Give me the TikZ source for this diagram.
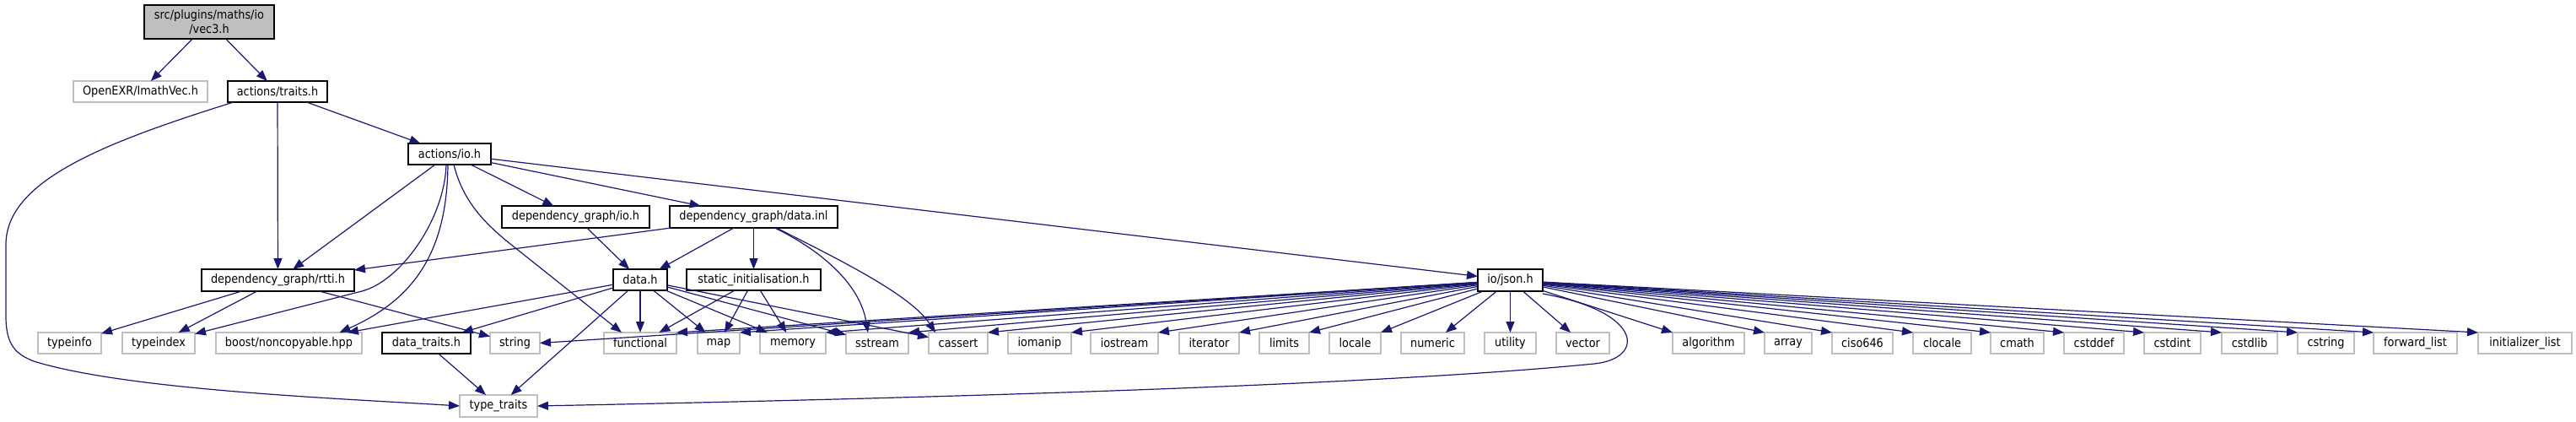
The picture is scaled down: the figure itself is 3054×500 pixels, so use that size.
\documentclass[tikz,border=0pt]{standalone}
\usepackage{fontspec}
\setmainfont{DejaVu Sans Condensed}
\usetikzlibrary{arrows.meta}
\definecolor{edgeblue}{HTML}{191970}
\definecolor{grayline}{HTML}{BFBFBF}
\newcommand{\mknode}[7]{\node[#2, minimum width={(#5-#3)*1pt}, minimum height={(#6-#4)*1pt}] (#1) at ({(#3+#5)/2},{(#4+#6)/2}) {#7};}
\begin{document}
\begin{tikzpicture}[x=1pt,y=-1pt, font=\fontsize{14.3}{16.5}\selectfont,
  base/.style={inner sep=0pt, outer sep=0pt, fill=white, text=black},
  intbox/.style={base, draw=black, line width=1.6pt},
  extbox/.style={base, draw=grayline, line width=1.6pt},
  rootbox/.style={base, draw=black, fill=grayline, line width=1.6pt, align=center},
  edge/.style={draw=edgeblue, line width=1.2pt, -{Triangle[length=13pt,width=10pt]}}]
\useasboundingbox (0,0) rectangle (3054,500);
% ---- nodes
\mknode{vec}{rootbox}{171}{6}{325}{46}{src/plugins/maths/io\\/vec3.h}
\mknode{openexr}{extbox}{87}{96}{246}{121}{OpenEXR/ImathVec.h}
\mknode{traits}{intbox}{270}{96}{388}{121}{actions/traits.h}
\mknode{actio}{intbox}{484}{170}{582}{195}{actions/io.h}
\mknode{rtti}{intbox}{239}{319}{420}{345}{dependency\_graph/rtti.h}
\mknode{dgio}{intbox}{595}{244}{770}{270}{dependency\_graph/io.h}
\mknode{datainl}{intbox}{794}{244}{993}{270}{dependency\_graph/data.inl}
\mknode{datah}{intbox}{727}{319}{791}{344}{data.h}
\mknode{nstatic}{intbox}{814}{319}{973}{344}{static\_initialisation.h}
\mknode{json}{intbox}{1752}{319}{1829}{345}{io/json.h}
\mknode{typeinfo}{extbox}{45}{394}{120}{419}{typeinfo}
\mknode{typeindex}{extbox}{145}{394}{231}{419}{typeindex}
\mknode{boost}{extbox}{256}{394}{429}{419}{boost/noncopyable.hpp}
\mknode{datatraits}{intbox}{453}{394}{558}{419}{data\_traits.h}
\mknode{nstring}{extbox}{581}{394}{640}{419}{string}
\mknode{functional}{extbox}{716}{394}{802}{419}{functional}
\mknode{nmap}{extbox}{827}{394}{877}{419}{map}
\mknode{memory}{extbox}{901}{394}{979}{419}{memory}
\mknode{sstream}{extbox}{1003}{394}{1077}{419}{sstream}
\mknode{cassert}{extbox}{1101}{394}{1171}{419}{cassert}
\mknode{iomanip}{extbox}{1195}{394}{1270}{419}{iomanip}
\mknode{iostream}{extbox}{1293}{394}{1373}{419}{iostream}
\mknode{iterator}{extbox}{1398}{394}{1469}{419}{iterator}
\mknode{limits}{extbox}{1493}{394}{1552}{419}{limits}
\mknode{locale}{extbox}{1576}{394}{1637}{419}{locale}
\mknode{numeric}{extbox}{1661}{394}{1736}{419}{numeric}
\mknode{utility}{extbox}{1760}{394}{1821}{419}{utility}
\mknode{vector}{extbox}{1845}{394}{1908}{419}{vector}
\mknode{algorithm}{extbox}{1983}{394}{2068}{419}{algorithm}
\mknode{narray}{extbox}{2092}{394}{2148}{419}{array}
\mknode{ciso}{extbox}{2172}{394}{2244}{419}{ciso646}
\mknode{clocale}{extbox}{2268}{394}{2337}{419}{clocale}
\mknode{cmath}{extbox}{2360}{394}{2423}{419}{cmath}
\mknode{cstddef}{extbox}{2447}{394}{2518}{419}{cstddef}
\mknode{cstdint}{extbox}{2542}{394}{2609}{419}{cstdint}
\mknode{cstdlib}{extbox}{2634}{394}{2700}{419}{cstdlib}
\mknode{cstring}{extbox}{2724}{394}{2791}{419}{cstring}
\mknode{fwdlist}{extbox}{2814}{394}{2913}{419}{forward\_list}
\mknode{initlist}{extbox}{2938}{394}{3049}{419}{initializer\_list}
\mknode{ttraits}{extbox}{545}{468}{637}{494}{type\_traits}
% ---- edges
\draw[edge] (vec) -- (openexr);
\draw[edge] (vec) -- (traits);
\draw[edge] ([xshift=7pt]traits.south west) .. controls (120,170) and (7,215) .. (7,290) -- (7,375) .. controls (7,410) and (20,420) .. (40,428) .. controls (150,462) and (400,472) .. (ttraits.west);
\draw[edge] (traits) -- (rtti);
\draw[edge] (traits) -- (actio);
\draw[edge] (actio) -- (rtti);
\draw[edge] ([xshift=-4pt]actio.south) .. controls (527,260) and (475,333) .. (429,345) -- (typeindex);
\draw[edge] ([xshift=-2pt]actio.south) .. controls (530,300) and (490,355) .. ([xshift=60pt]boost.north);
\draw[edge] ([xshift=5pt]actio.south) .. controls (548,235) and (570,260) .. (600,285) -- ([xshift=-22pt]functional.north);
\draw[edge] (actio) -- (dgio);
\draw[edge] (actio) -- (datainl);
\draw[edge] (actio) -- (json);
\draw[edge] (dgio) -- (datah);
\draw[edge] (datainl) -- (rtti);
\draw[edge] (datainl) -- (datah);
\draw[edge] (datainl) -- (nstatic);
\draw[edge] ([xshift=25pt]datainl.south) .. controls (980,300) and (1020,340) .. ([xshift=-11pt]sstream.north);
\draw[edge] ([xshift=27pt]datainl.south) .. controls (1000,310) and (1080,350) .. ([xshift=-27pt]cassert.north);
\draw[edge] (rtti) -- (typeinfo);
\draw[edge] (rtti) -- (typeindex);
\draw[edge] (rtti) -- (nstring);
\draw[edge] (datah) -- (boost);
\draw[edge] (datah) -- (datatraits);
\draw[edge] (datah) -- (ttraits);
\draw[edge] (datah) -- (functional);
\draw[edge] (datah) -- (nmap);
\draw[edge] (datah) -- (memory);
\draw[edge] (datah) -- (sstream);
\draw[edge] (datah) -- (cassert);
\draw[edge] (datatraits) -- (ttraits);
\draw[edge] (nstatic) -- (functional);
\draw[edge] (nstatic) -- (nmap);
\draw[edge] (nstatic) -- (memory);
\draw[edge] (json) -- (nstring.east);
\draw[edge] (json) -- (functional.north east);
\draw[edge] (json) -- (nmap.north east);
\draw[edge] (json) -- (memory.north east);
\draw[edge] (json) -- (sstream.north east);
\draw[edge] (json) -- (cassert.north east);
\draw[edge] (json) -- (iomanip.north east);
\draw[edge] (json) -- (iostream.north east);
\draw[edge] (json) -- (iterator.north east);
\draw[edge] (json) -- (limits.north east);
\draw[edge] (json) -- (locale.north east);
\draw[edge] (json) -- (numeric);
\draw[edge] (json) -- (utility);
\draw[edge] (json) -- (vector);
\draw[edge] (json) -- (algorithm.north west);
\draw[edge] (json) -- (narray.north west);
\draw[edge] (json) -- (ciso.north west);
\draw[edge] (json) -- (clocale.north west);
\draw[edge] (json) -- (cmath.north west);
\draw[edge] (json) -- (cstddef.north west);
\draw[edge] (json) -- (cstdint.north west);
\draw[edge] (json) -- (cstdlib.north west);
\draw[edge] (json) -- (cstring.north west);
\draw[edge] (json) -- (fwdlist.north west);
\draw[edge] (json) -- (initlist.north west);
\draw[edge] ([yshift=-3pt]json.south east) .. controls (1950,370) and (1950,425) .. (1890,431) .. controls (1700,450) and (1300,468) .. (ttraits.east);
\end{tikzpicture}
\end{document}
